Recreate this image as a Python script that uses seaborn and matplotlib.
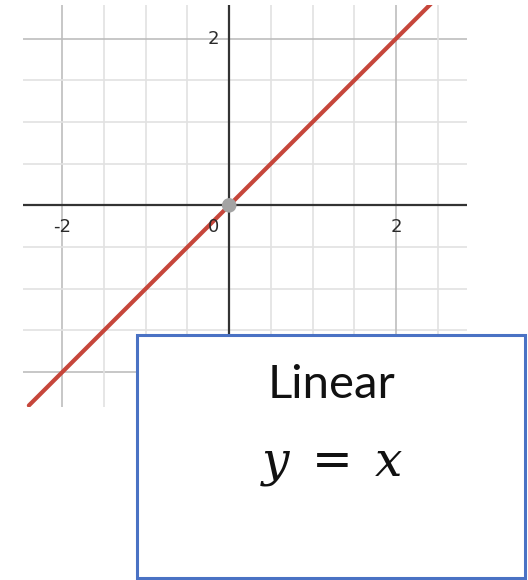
import numpy as np
import pandas as pd
import matplotlib
matplotlib.use("Agg")
import matplotlib.pyplot as plt
from matplotlib.patches import Rectangle
import seaborn as sns

# data
line_x = [-2.4, 2.43]
line_y = [-2.4, 2.43]
origin_x = [0.0]
origin_y = [0.0]
xtick_vals = [-2, 0, 2]
xtick_labels = ["-2", "0", "2"]
ytick_vals = [2]
ytick_labels = ["2"]
box_title = "Linear"
box_formula = r"$y\;=\;x$"

sns.set_theme(style="white")
plt.rcParams['font.family'] = ['Lato', 'DejaVu Sans']

fig = plt.figure(figsize=(5.28, 5.80), dpi=100)
ax = fig.add_axes([0.0436, 0.298, 0.841, 0.693])

ax.set_xlim(-2.47, 2.85)
ax.set_ylim(-2.42, 2.40)

# grid lines
grid_minor = np.arange(-2.5, 2.51, 0.5)
for g in grid_minor:
    c = "#bdbdbd" if g in (-2, 2) else "#e2e2e2"
    ax.axvline(g, color=c, lw=1.2, zorder=0)
    ax.axhline(g, color=c, lw=1.2, zorder=0)

# axes
ax.axhline(0, color="#333333", lw=1.6, zorder=1)
ax.axvline(0, color="#333333", lw=1.6, zorder=1)

df = pd.DataFrame({"x": line_x, "y": line_y})
sns.lineplot(data=df, x="x", y="y", color="#c6463b", lw=3.0, ax=ax, zorder=3)
sns.scatterplot(x=origin_x, y=origin_y, color="#a3a3a3", s=110, edgecolor="none", ax=ax, zorder=4)

for v, lab in zip(xtick_vals, xtick_labels):
    xo = -0.19 if v == 0 else 0
    ax.text(v + xo, -0.26, lab, ha="center", va="center", fontsize=13, color="#2a2a2a",
            family="DejaVu Sans")
for v, lab in zip(ytick_vals, ytick_labels):
    ax.text(-0.19, v, lab, ha="center", va="center", fontsize=13, color="#2a2a2a",
            family="DejaVu Sans")

ax.set_xticks([])
ax.set_yticks([])
ax.set_xlabel("")
ax.set_ylabel("")
for s in ax.spines.values():
    s.set_visible(False)
ax.patch.set_alpha(0)

# label box
box = Rectangle((0.2595, 0.004), 0.735, 0.419, transform=fig.transFigure,
                facecolor="white", edgecolor="#4a72c4", lw=2.2, zorder=10)
fig.patches.append(box)
fig.text(0.627, 0.336, box_title, ha="center", va="center", fontsize=34,
         color="#111111", zorder=11)
fig.text(0.627, 0.196, box_formula, ha="center", va="center", fontsize=35,
         color="#111111", zorder=11, math_fontfamily="dejavuserif")

fig.savefig("out.png", dpi=100)
